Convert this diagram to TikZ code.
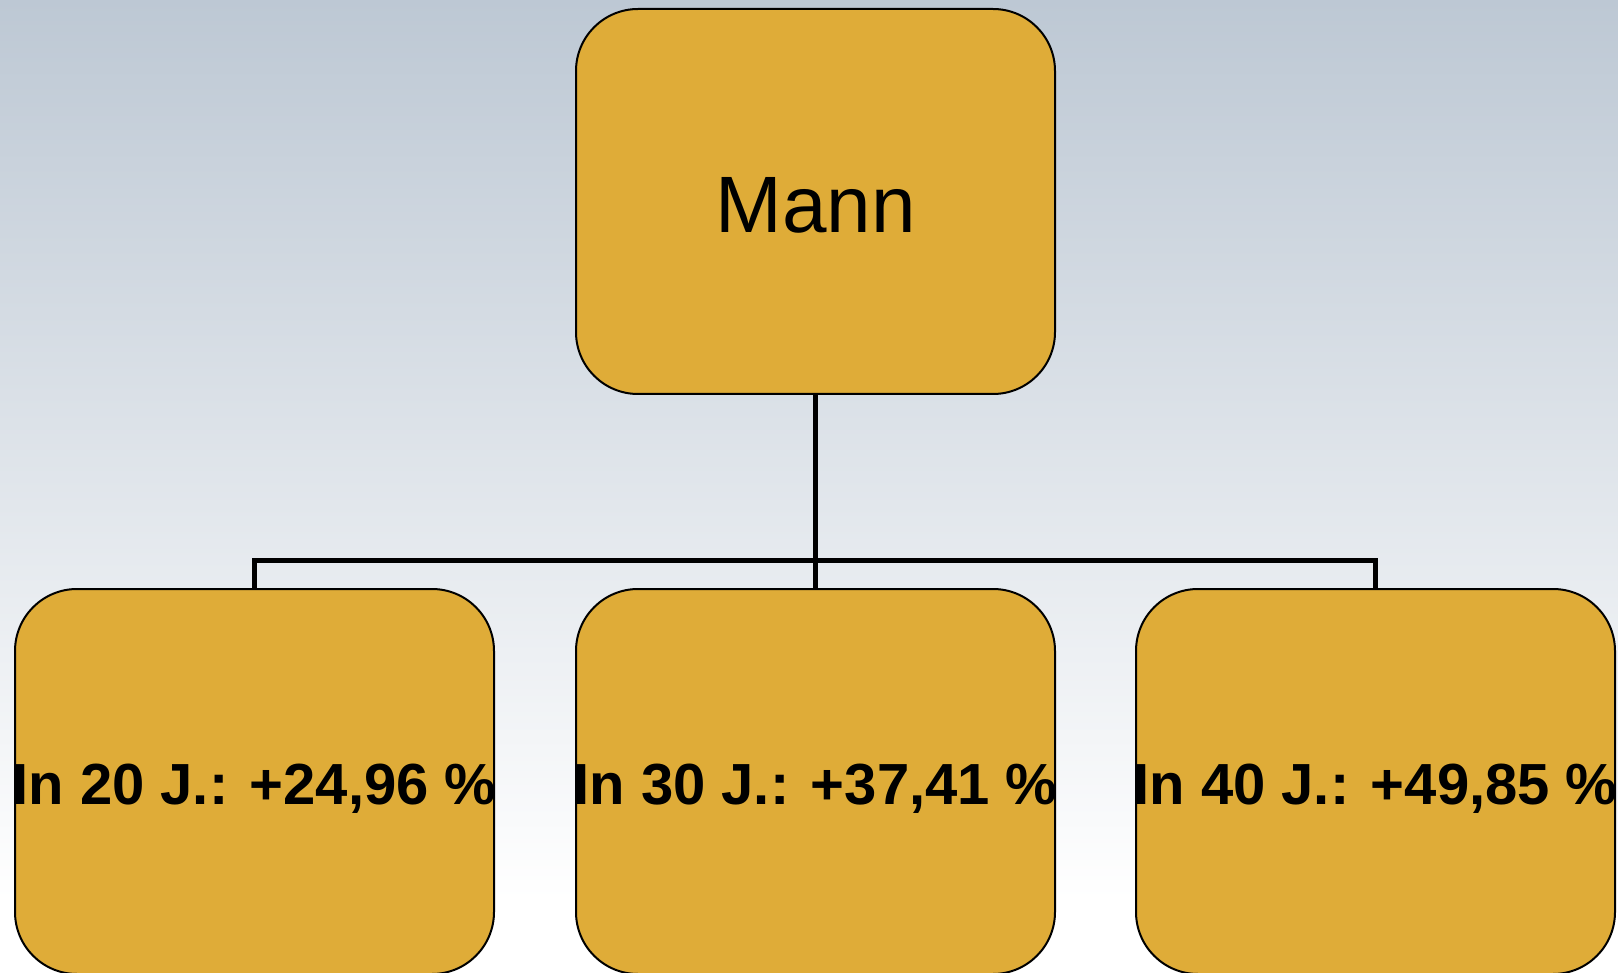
\documentclass[tikz,border=0pt]{standalone}
\usepackage{fontspec}
\setmainfont{Liberation Sans}
\definecolor{boxfill}{RGB}{223,172,56}
\definecolor{bgtop}{RGB}{189,200,212}
\newcommand{\boxtext}[2]{\makebox[0pt]{\raisebox{-#1}[0pt][0pt]{#2}}}
\tikzset{
  box/.style={draw=black, line width=2pt, fill=boxfill, rounded corners=62pt,
    minimum width=479pt, minimum height=385pt, inner sep=0pt},
  conn/.style={draw=black, line width=5pt},
  small/.style={font=\fontsize{58}{66}\selectfont\bfseries}
}
\begin{document}
\begin{tikzpicture}[x=1pt,y=-1pt]
\useasboundingbox (0,0) rectangle (1618,973);
\shade[top color=bgtop, bottom color=white] (0,0) rectangle (1618,900);
\fill[white] (0,900) rectangle (1618,973);
\node[box, font=\fontsize{80}{90}\selectfont] (top) at (815.5,201.5) {\boxtext{31pt}{Mann}};
\node[box, small] (l) at (254.5,781.5) {\boxtext{23pt}{In 20 J.: +24,96 \%}};
\node[box, small] (m) at (815.5,781.5) {\boxtext{23pt}{In 30 J.: +37,41 \%}};
\node[box, small] (r) at (1375.5,781.5) {\boxtext{23pt}{In 40 J.: +49,85 \%}};
\draw[conn] (top.south) -- (m.north);
\draw[conn] (l.north) -- ++(0,-28) -| (r.north);
\end{tikzpicture}
\end{document}
